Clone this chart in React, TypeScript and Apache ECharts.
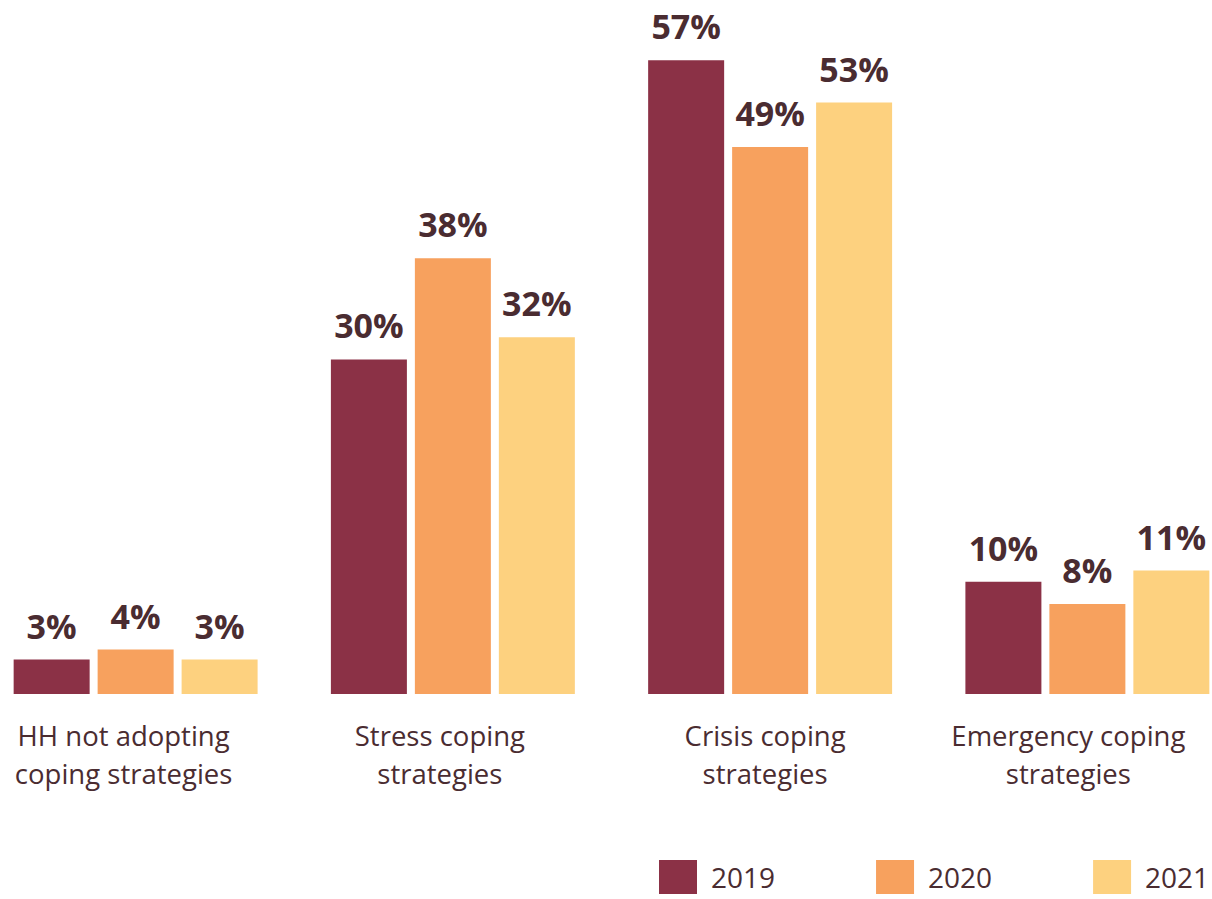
import React, { useEffect, useRef } from "react";
import * as echarts from "echarts";

const categories = [
  "HH not adopting\ncoping strategies",
  "Stress coping\nstrategies",
  "Crisis coping\nstrategies",
  "Emergency coping\nstrategies",
];
const years = ["2019", "2020", "2021"];
const values2019 = [3.1, 30.1, 57, 10.1];
const values2020 = [4.0, 39.2, 49.2, 8.1];
const values2021 = [3.1, 32.1, 53.2, 11.1];
const labels2019 = ["3%", "30%", "57%", "10%"];
const labels2020 = ["4%", "38%", "49%", "8%"];
const labels2021 = ["3%", "32%", "53%", "11%"];
const colors = ["#8B3146", "#F7A15E", "#FDD17F"];

const OFFSET_L = 23;
const OFFSET_R = 34;
// leftward shift (px) of each category label relative to its group centre
const labelShift = [12, 13, 5, 19];

export default function App() {
  const ref = useRef<HTMLDivElement>(null);
  useEffect(() => {
    if (!ref.current) return;
    const chart = echarts.init(ref.current, null, { renderer: "svg" });
    const font = "Open Sans, Noto Sans, sans-serif";
    const textColor = "#4A2C31";
    const mk = (name: string, data: number[], labels: string[], color: string) => ({
      name,
      type: "bar",
      data,
      barWidth: 76,
      barGap: "10.5%",
      itemStyle: { color },
      label: {
        show: true,
        position: "top",
        distance: 17,
        formatter: (p: any) => labels[p.dataIndex],
        fontFamily: font,
        fontWeight: "bold",
        fontSize: 34,
        color: textColor,
      },
    });
    const rich: any = {};
    labelShift.forEach((s, i) => {
      rich["c" + i] = {
        fontFamily: font,
        fontSize: 27.5,
        lineHeight: 38,
        color: textColor,
        padding: [0, s * 2, 0, 0],
      };
    });
    chart.setOption({
      animation: false,
      grid: { left: 0, right: 0, top: 27, bottom: 205, containLabel: false },
      legend: {
        left: 654 + OFFSET_L,
        top: 855,
        itemWidth: 38,
        itemHeight: 34,
        itemGap: 101,
        icon: "rect",
        textStyle: {
          fontFamily: font,
          fontSize: 28,
          lineHeight: 28,
          color: textColor,
          padding: [0, 0, 0, 9],
        },
        data: years,
      },
      xAxis: {
        type: "category",
        data: categories,
        axisLine: { show: false },
        axisTick: { show: false },
        axisLabel: {
          margin: 22,
          fontFamily: font,
          fontSize: 27.5,
          lineHeight: 38,
          color: textColor,
          interval: 0,
          formatter: (v: string, i: number) =>
            v
              .split("\n")
              .map((line) => `{c${i}|${line}}`)
              .join("\n"),
          rich,
        },
      },
      yAxis: { type: "value", min: 0, max: 60, show: false, splitLine: { show: false } },
      series: [
        mk(years[0], values2019, labels2019, colors[0]),
        mk(years[1], values2020, labels2020, colors[1]),
        mk(years[2], values2021, labels2021, colors[2]),
      ],
    });
    return () => chart.dispose();
  }, []);
  return (
    <div
      ref={ref}
      style={{ width: 1212 + OFFSET_L + OFFSET_R, height: 899, position: "absolute", left: -OFFSET_L, top: 0 }}
    />
  );
}
